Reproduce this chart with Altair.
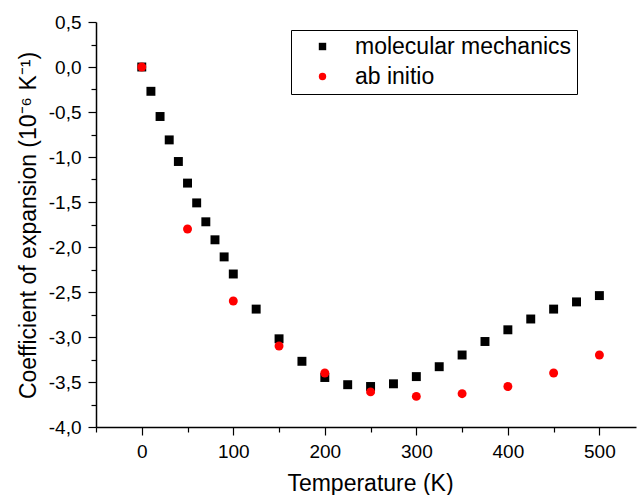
import altair as alt
import pandas as pd

mm_T = [0, 10, 20, 30, 40, 50, 60, 70, 80, 90, 100, 125, 150, 175, 200, 225, 250,
        275, 300, 325, 350, 375, 400, 425, 450, 475, 500]
mm_val = [0.0, -0.27, -0.55, -0.81, -1.05, -1.29, -1.51, -1.72, -1.92, -2.11, -2.30,
          -2.69, -3.02, -3.27, -3.45, -3.53, -3.55, -3.52, -3.44, -3.33, -3.20, -3.05,
          -2.92, -2.80, -2.69, -2.61, -2.54]
ai_T = [0, 50, 100, 150, 200, 250, 300, 350, 400, 450, 500]
ai_val = [0.0, -1.80, -2.60, -3.10, -3.40, -3.61, -3.66, -3.63, -3.55, -3.40, -3.20]

series = ["molecular mechanics", "ab initio"]
colors = ["#000000", "#ff0000"]
shapes = ["square", "circle"]

x_ticks = [-50, 0, 50, 100, 150, 200, 250, 300, 350, 400, 450, 500]
y_ticks = [-4.0, -3.75, -3.5, -3.25, -3.0, -2.75, -2.5, -2.25, -2.0, -1.75, -1.5,
           -1.25, -1.0, -0.75, -0.5, -0.25, 0.0, 0.25, 0.5]

df = pd.concat([
    pd.DataFrame({"T": mm_T, "v": mm_val, "series": series[0]}),
    pd.DataFrame({"T": ai_T, "v": ai_val, "series": series[1]}),
], ignore_index=True)

FONT = "Liberation Sans"

y_minor = "abs(datum.value*2 - round(datum.value*2)) > 0.01"
x_minor = "datum.value % 100 != 0"

chart = alt.Chart(df).mark_point(filled=True, size=80, opacity=1).encode(
    x=alt.X("T:Q", scale=alt.Scale(domain=[-50, 540], nice=False, zero=False),
            axis=alt.Axis(values=x_ticks, title="Temperature (K)", grid=False,
                          labelExpr=f"{x_minor} ? '' : format(datum.value, 'd')",
                          labelOverlap=False, labelPadding=7,
                          tickSize={"condition": {"test": x_minor, "value": 5}, "value": 8},
                          titleX=274, titleY=63, titleBaseline="alphabetic",
                          titleAlign="center")),
    y=alt.Y("v:Q", scale=alt.Scale(domain=[-4.0, 0.5], nice=False, zero=False),
            axis=alt.Axis(values=y_ticks, title="Coefficient of expansion (10⁻⁶ K⁻¹)",
                          grid=False,
                          labelExpr=f"{y_minor} ? '' : replace(replace(format(datum.value, '.1f'), '.', ','), '\u2212', '-')",
                          labelOverlap=False, labelPadding=7,
                          tickSize={"condition": {"test": y_minor, "value": 5}, "value": 8},
                          titleX=-61, titleY=203, titleBaseline="alphabetic",
                          titleAlign="center", titleAngle=270)),
    color=alt.Color("series:N", scale=alt.Scale(domain=series, range=colors),
                    legend=alt.Legend(title=None, orient="none", legendX=195, legendY=8,
                                      strokeColor="black", padding=5,
                                      symbolOffset=15, labelOffset=21,
                                      symbolSize=55, rowPadding=6,
                                      labelFont=FONT, labelFontSize=23,
                                      labelColor="black", labelLimit=400)),
    shape=alt.Shape("series:N", scale=alt.Scale(domain=series, range=shapes)),
).properties(
    width=540, height=405,
    autosize=alt.AutoSizeParams(type="none"),
    padding={"left": 96, "top": 22, "right": 1, "bottom": 68},
).configure_view(
    stroke=None
).configure_axis(
    domainColor="black", domainWidth=1.5, tickColor="black", tickWidth=1.2,
    labelFont=FONT, labelFontSize=19, labelColor="black",
    titleFont=FONT, titleFontSize=23, titleFontWeight="normal", titleColor="black",
)

chart.save("out.html", embed_options={"renderer": "svg", "actions": False})
